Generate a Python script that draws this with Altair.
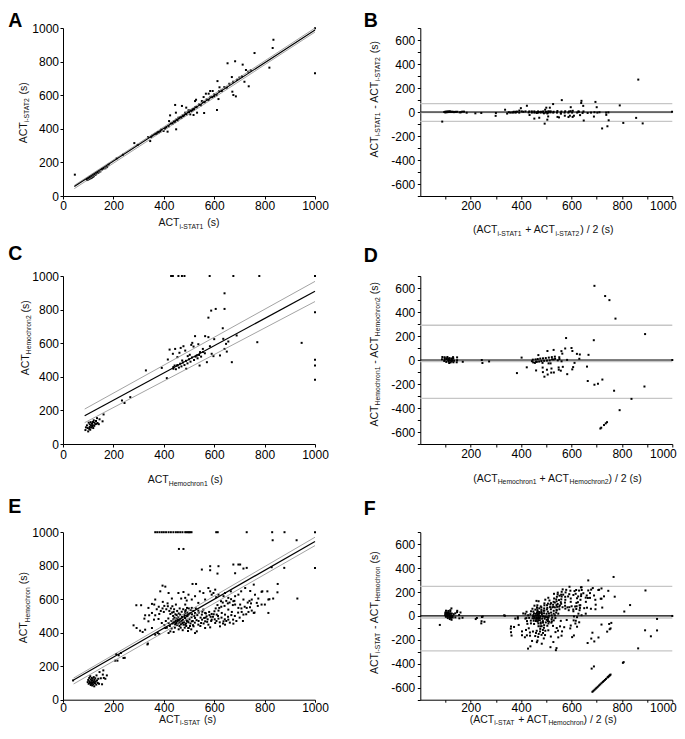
import altair as alt
import pandas as pd

FONT = "Liberation Sans, Arial, Helvetica, sans-serif"

# ---------------- data ----------------
# Panel A: ACT i-STAT1 (x) vs ACT i-STAT2 (y)
a_pairs = [
    (47, 127),
    (95, 95), (97, 100), (100, 98), (102, 104), (105, 102), (107, 108), (110, 106), (112, 112),
    (115, 110), (118, 117), (120, 115), (123, 121), (126, 125), (130, 128), (133, 134), (138, 137),
    (142, 141), (148, 146), (155, 158), (160, 162), (168, 165), (175, 172), (181, 187), (213, 224),
    (238, 246),
    (283, 315), (296, 304), (338, 351), (346, 327), (350, 352), (355, 360), (363, 367), (368, 372),
    (372, 370), (376, 381), (380, 378), (386, 383), (390, 395), (399, 387), (405, 400), (410, 408),
    (415, 383), (420, 415), (428, 432), (435, 430), (440, 445), (445, 440), (450, 455), (455, 450),
    (460, 462), (465, 470), (470, 465), (475, 480), (480, 478), (485, 488), (490, 485), (495, 500),
    (500, 498), (505, 510), (510, 505), (515, 518), (520, 515), (525, 530), (530, 528), (540, 545),
    (548, 540), (555, 560), (562, 558), (570, 575), (578, 572), (585, 590), (592, 588), (600, 605),
    (610, 600), (620, 625), (630, 628), (640, 648), (650, 645), (660, 668), (675, 680), (690, 692),
    (700, 705), (710, 712), (720, 680), (735, 740), (745, 748),
    (421, 446), (425, 480), (445, 542), (448, 496), (449, 397), (458, 466), (472, 536), (476, 476),
    (485, 496), (489, 526), (498, 510), (505, 486), (514, 510), (518, 482), (524, 565), (528, 573),
    (532, 496), (551, 565), (558, 589), (560, 494), (567, 609), (578, 609), (584, 625), (594, 625),
    (600, 593), (611, 512), (613, 684), (617, 577), (621, 647), (630, 625), (653, 790), (670, 708),
    (672, 621), (676, 601), (683, 802), (686, 593), (713, 782), (726, 750), (737, 653), (760, 851),
    (819, 764), (832, 881), (835, 930), (1000, 998), (1000, 730),
]

# Panel C: ACT Hemochron1 (x) vs ACT Hemochron2 (y)
c_pairs = [
    (89, 83), (95, 111), (98, 95), (102, 127), (106, 101), (108, 85), (111, 111), (115, 121),
    (119, 131), (122, 141), (125, 127), (131, 137), (135, 154), (137, 125), (145, 147), (157, 135),
    (161, 176), (100, 75), (91, 99), (116, 105), (106, 117), (112, 98), (118, 112), (128, 118),
    (104, 90), (124, 108), (110, 130), (133, 120), (142, 118), (120, 95),
    (234, 259), (244, 244), (267, 279), (329, 438),
    (392, 453), (416, 503), (412, 392), (423, 562), (436, 537), (445, 566), (438, 448), (452, 467),
    (454, 517), (462, 543), (467, 572), (473, 497), (478, 582), (485, 556), (489, 448), (495, 523),
    (503, 531), (509, 590), (513, 602), (518, 580), (524, 642), (531, 527), (537, 594), (542, 467),
    (544, 547), (555, 566), (564, 642), (571, 487), (577, 636), (583, 582), (590, 537), (597, 523),
    (600, 624), (623, 527), (636, 626), (641, 566), (647, 596), (650, 550), (656, 610), (670, 487),
    (689, 646),
    (438, 458), (443, 467), (448, 445), (455, 470), (460, 455), (465, 478), (470, 462), (476, 485),
    (482, 470), (488, 495), (494, 480), (500, 505), (506, 490), (512, 515), (520, 500), (526, 520),
    (534, 510), (540, 530), (548, 520), (556, 548), (563, 540),
    (429, 1000), (436, 1000), (458, 1000), (472, 1000), (482, 1000), (582, 1000), (676, 1000),
    (779, 1000), (1000, 1000),
    (641, 897), (588, 794), (606, 804), (641, 804), (577, 752), (634, 689), (1000, 784), (1000, 501),
    (1000, 467), (1000, 382), (947, 602), (771, 606),
]

# Panel E: ACT i-STAT (x) vs ACT Hemochron (y)
e_pairs = [
    (40, 115),
    (98, 105), (100, 118), (102, 95), (104, 130), (105, 110), (107, 100), (108, 140), (110, 88),
    (110, 120), (112, 105), (113, 95), (114, 130), (115, 115), (116, 85), (117, 100), (118, 125),
    (120, 110), (120, 92), (122, 135), (123, 105), (124, 80), (125, 118), (127, 98), (128, 128),
    (130, 108), (132, 90), (133, 145), (135, 115), (138, 100), (140, 125), (143, 95), (150, 128),
    (155, 92), (158, 150), (162, 130), (168, 125), (174, 145), (145, 165), (160, 175),
    (207, 233), (216, 233), (211, 273), (221, 265), (230, 279), (240, 249), (245, 250), (335, 330),
    (382, 392),
    (395, 681), (406, 675), (386, 647), (419, 637), (432, 604), (458, 637), (478, 643), (469, 604),
    (362, 568), (353, 572), (366, 598), (291, 564), (310, 564), (339, 548), (396, 584), (416, 558),
    (434, 558), (448, 568), (326, 504), (342, 504), (353, 518), (366, 504), (382, 512), (400, 524),
    (323, 484), (339, 468), (361, 478), (379, 482), (392, 458), (280, 444), (292, 428), (306, 412),
    (316, 404), (326, 418), (353, 428), (366, 388), (337, 335), (376, 398), (406, 428), (419, 458),
    (426, 408), (439, 404), (448, 452), (456, 478), (465, 508), (472, 468), (478, 448), (485, 518),
    (491, 498), (495, 468), (498, 428), (491, 592), (426, 512), (439, 524), (419, 398),
    (430, 470), (435, 455), (438, 480), (440, 462), (442, 490), (445, 450), (447, 472), (449, 460),
    (450, 485), (452, 445), (455, 468), (457, 492), (458, 455), (460, 475), (462, 440), (464, 462),
    (466, 483), (468, 450), (470, 470), (472, 495), (474, 458), (476, 478), (480, 462), (484, 488),
    (488, 455), (490, 475), (494, 500), (498, 462), (502, 480), (506, 455), (510, 492), (515, 470),
    (366, 1000), (374, 1000), (383, 1000), (392, 1000), (400, 1000), (409, 1000), (419, 1000),
    (428, 1000), (438, 1000), (448, 1000), (456, 1000), (465, 1000), (474, 1000), (485, 1000),
    (490, 1000), (495, 1000), (500, 1000), (505, 1000), (510, 1000), (608, 1000), (614, 1000),
    (729, 1000), (830, 1000), (879, 1000), (1000, 1000),
    (460, 900), (478, 900),
    (832, 952), (927, 952), (1000, 787), (878, 787), (828, 791), (551, 777), (584, 797), (584, 773),
    (617, 797), (613, 753), (676, 807), (696, 807), (703, 807), (716, 783), (683, 755), (729, 787),
    (514, 691), (528, 691), (852, 691), (851, 641), (930, 604), (757, 687),
    (485, 608), (498, 627), (511, 598), (524, 618), (537, 578), (543, 647), (557, 637), (564, 598),
    (577, 667), (584, 647), (590, 627), (597, 637), (604, 657), (608, 612), (617, 627), (627, 588),
    (637, 618), (643, 637), (656, 608), (666, 647), (676, 588), (683, 618), (696, 627), (707, 647),
    (716, 598), (723, 667), (749, 598), (762, 627), (775, 604), (791, 647), (801, 568), (815, 598),
    (834, 604),
    (485, 528), (498, 508), (511, 548), (524, 518), (537, 532), (551, 508), (557, 538), (564, 518),
    (570, 498), (580, 524), (590, 512), (601, 528), (610, 508), (617, 532), (630, 518), (643, 508),
    (656, 538), (670, 524), (683, 568), (696, 548), (709, 524), (729, 548), (742, 552), (749, 532),
    (757, 518), (769, 578), (788, 568), (815, 518), (736, 524), (703, 568), (716, 508),
    (511, 468), (524, 488), (537, 448), (548, 458), (564, 468), (577, 448), (590, 478), (604, 458),
    (617, 484), (623, 438), (637, 468), (643, 448), (656, 478), (676, 454), (485, 448), (498, 428),
    (518, 438), (524, 398), (531, 408), (564, 428), (584, 432),
    (485, 568), (492, 548), (485, 488), (492, 468),
    (760, 520), (773, 560), (819, 600), (811, 647), (788, 644), (743, 649),
    (372, 540), (380, 555), (388, 530), (395, 545), (402, 560), (410, 540), (415, 575), (422, 530),
    (428, 545), (433, 520), (441, 540), (446, 510), (453, 530), (459, 515), (463, 545), (471, 525),
    (477, 540), (482, 505), (487, 535), (493, 520), (499, 545), (503, 515), (507, 535), (512, 510),
    (517, 530), (521, 500), (527, 545), (533, 505), (539, 520), (546, 490), (553, 525), (560, 488),
    (567, 515), (574, 480), (581, 505), (588, 470), (595, 495), (602, 480), (609, 470), (615, 500),
    (622, 462), (629, 490), (635, 455), (642, 480), (648, 470), (655, 495), (662, 460), (668, 505),
    (675, 478), (682, 500), (688, 470), (695, 520), (701, 490), (708, 545), (714, 470), (721, 555),
    (727, 510), (733, 580), (740, 590), (746, 575),
    (402, 445), (408, 470), (412, 430), (418, 485), (424, 440), (431, 425), (437, 500), (444, 430),
    (451, 505), (459, 420), (467, 430), (475, 415), (483, 430), (489, 440), (496, 410), (504, 440),
    (509, 420), (516, 445), (523, 460), (530, 475), (538, 470), (545, 440), (552, 478), (558, 455),
    (566, 490), (572, 465), (586, 495), (598, 510), (606, 545), (613, 565), (620, 548), (628, 555),
    (634, 580), (641, 560), (648, 590), (654, 575), (661, 580), (667, 600), (674, 565), (680, 590),
]

# Regression lines (two end points) with 95% confidence band
a_line_x = [45, 1000]
a_fit_y = [56, 988]
a_upper_y = [63, 1000]
a_lower_y = [44, 976]

c_line_x = [86, 1000]
c_fit_y = [168, 909]
c_upper_y = [208, 968]
c_lower_y = [127, 848]

e_line_x = [42, 1000]
e_fit_y = [117, 945]
e_upper_y = [129, 970]
e_lower_y = [94, 920]

# Bland-Altman reference levels: zero line, mean bias, upper and lower limits of agreement
ba_zero = [0]
b_levels = [-4, 70, -78]
d_levels = [-12, 289, -320]
f_levels = [-17, 247, -292]

# ---------------- layout constants ----------------
W = 252
H = 168
H3 = 175.7
OFF3 = 8.2

AX_TICKS = list(range(0, 1001, 200))
BA_X_TICKS = list(range(100, 1001, 100))
BA_Y_TICKS = list(range(-700, 701, 100))
BA_LABEL = "datum.value % 200 === 0 ? '' + datum.value : ''"

CHAR_W = {' ': 278, '(': 333, ')': 333, '+': 584, '-': 333, '/': 278, 'A': 667, 'C': 722,
          'T': 611, 'S': 667, 'H': 722, 'e': 556, 'm': 833, 'o': 556, 'c': 500, 'h': 556,
          'r': 333, 'n': 556, 'i': 222, 's': 500}

ONE = pd.DataFrame({'k': [0]})


def text_w(s, fs):
    return sum(CHAR_W.get(ch, 556) for ch in s) * fs / 1000.0


def txt(s, x, y, fs, angle=0):
    return alt.Chart(ONE).mark_text(
        text=s, font=FONT, fontSize=fs, angle=angle, align='left',
        baseline='alphabetic', color='#111111'
    ).encode(x=alt.value(x), y=alt.value(y))


def composite_title(segs, cx, cy, vertical, shift=2.2):
    MAIN, SUB = 10.5, 6.8
    total = sum(text_w(t, SUB if s else MAIN) for t, s in segs)
    pos = -total / 2.0
    out = []
    for t, s in segs:
        fs = SUB if s else MAIN
        st = t.lstrip(' ')
        start = pos + text_w(t[:len(t) - len(st)], fs)
        if vertical:
            out.append(txt(st, cx + (shift if s else 0), cy - start, fs, angle=270))
        else:
            out.append(txt(st, cx + start, cy + (shift if s else 0), fs))
        pos += text_w(t, fs)
    return out


def letter(ch, x, y):
    return alt.Chart(ONE).mark_text(
        text=ch, font=FONT, fontSize=19.5, fontWeight='bold', align='left',
        baseline='top', color='black'
    ).encode(x=alt.value(x), y=alt.value(y))


def top_anchor():
    # invisible (white) hairline that fixes the top edge of the layout
    return alt.Chart(ONE).mark_rule(color='white', strokeWidth=0.5).encode(
        x=alt.value(-54), x2=alt.value(-50), y=alt.value(-18.8))


def make_axis(values, pad, label_expr=None, flush=False, tick=3):
    kw = dict(values=values, title=None, grid=False, domainColor='black', domainWidth=1,
              tickColor='black', tickWidth=1, tickSize=tick, labelFont=FONT, labelFontSize=12,
              labelColor='black', labelPadding=pad, labelOverlap=False, labelFlush=flush)
    if label_expr:
        kw['labelExpr'] = label_expr
    else:
        kw['format'] = 'd'
    if flush:
        kw['labelFlushOffset'] = 4
    return alt.Axis(**kw)


def yscale(domain, yrange):
    if yrange:
        return alt.Scale(domain=domain, nice=False, zero=False, range=yrange)
    return alt.Scale(domain=domain, nice=False, zero=False)


def scatter_layers(pairs, line_x, fit_y, up_y, lo_y, xpad, yrange=None, xtick=3):
    df = pd.DataFrame(pairs, columns=['x', 'y'])
    xs = alt.Scale(domain=[0, 1000], nice=False, zero=False)
    ys = yscale([0, 1000], yrange)
    ax = make_axis(AX_TICKS, xpad, tick=xtick)
    ay = make_axis(AX_TICKS, 1.5)
    ci = pd.DataFrame({'x0': [line_x[0]] * 2, 'x1': [line_x[1]] * 2,
                       'y0': [up_y[0], lo_y[0]], 'y1': [up_y[1], lo_y[1]]})
    fit = pd.DataFrame({'x0': [line_x[0]], 'x1': [line_x[1]], 'y0': [fit_y[0]], 'y1': [fit_y[1]]})
    pts = alt.Chart(df).mark_square(size=4, color='black', opacity=1, strokeWidth=0).encode(
        x=alt.X('x:Q', scale=xs, axis=ax, title=None),
        y=alt.Y('y:Q', scale=ys, axis=ay, title=None))
    ci_l = alt.Chart(ci).mark_rule(color='#8c8c8c', strokeWidth=0.8).encode(
        x=alt.X('x0:Q', scale=xs, axis=ax, title=None), x2='x1:Q',
        y=alt.Y('y0:Q', scale=ys, axis=ay, title=None), y2='y1:Q')
    fit_l = alt.Chart(fit).mark_rule(color='black', strokeWidth=1.2).encode(
        x=alt.X('x0:Q', scale=xs, axis=ax, title=None), x2='x1:Q',
        y=alt.Y('y0:Q', scale=ys, axis=ay, title=None), y2='y1:Q')
    return [pts, ci_l, fit_l]


def ba_layers(pairs, levels, xpad, yrange=None, xtick=3):
    df = pd.DataFrame(pairs, columns=['a', 'b'])
    df['m'] = (df['a'] + df['b']) / 2.0
    df['d'] = df['a'] - df['b']
    xs = alt.Scale(domain=[0, 1000], nice=False, zero=False)
    ys = yscale([-700, 700], yrange)
    ax = make_axis(BA_X_TICKS, xpad, BA_LABEL, flush=True, tick=xtick)
    ay = make_axis(BA_Y_TICKS, 2.5, BA_LABEL)
    gray = alt.Chart(pd.DataFrame({'v': levels})).mark_rule(color='#c6c6c6', strokeWidth=1.4).encode(
        y=alt.Y('v:Q', scale=ys, axis=ay, title=None), x=alt.value(0), x2=alt.value(W))
    zero = alt.Chart(pd.DataFrame({'v': ba_zero})).mark_rule(color='black', strokeWidth=1.2).encode(
        y=alt.Y('v:Q', scale=ys, axis=ay, title=None), x=alt.value(0), x2=alt.value(W))
    pts = alt.Chart(df).mark_square(size=4, color='black', opacity=1, strokeWidth=0).encode(
        x=alt.X('m:Q', scale=xs, axis=ax, title=None),
        y=alt.Y('d:Q', scale=ys, axis=ay, title=None))
    return [gray, zero, pts]


# ---------------- panels ----------------
panel_a = alt.layer(
    *scatter_layers(a_pairs, a_line_x, a_fit_y, a_upper_y, a_lower_y, 1),
    top_anchor(),
    letter('A', -54.7, -16),
    *composite_title([('ACT', False), ('i-STAT1', True), (' (s)', False)], 126, 198.3, False),
    *composite_title([('ACT', False), ('i-STAT2', True), (' (s)', False)], -36, 84.7, True),
).properties(width=W, height=H)

panel_b = alt.layer(
    *ba_layers(a_pairs, b_levels, 1.5),
    letter('B', -56.6, -16),
    *composite_title([('(ACT', False), ('i-STAT1', True), (' + ACT', False), ('i-STAT2', True),
                      (') / 2 (s)', False)], 123, 205.3, False),
    *composite_title([('ACT', False), ('i-STAT1', True), (' - ACT', False), ('i-STAT2', True),
                      (' (s)', False)], -42.6, 71.3, True),
).properties(width=W, height=H)

panel_c = alt.layer(
    *scatter_layers(c_pairs, c_line_x, c_fit_y, c_upper_y, c_lower_y, 2.5),
    letter('C', -54.7, -31),
    *composite_title([('ACT', False), ('Hemochron1', True), (' (s)', False)], 122.3, 207.3, False),
    *composite_title([('ACT', False), ('Hemochron2', True), (' (s)', False)], -34.4, 61.7, True),
).properties(width=W, height=H)

panel_d = alt.layer(
    *ba_layers(c_pairs, d_levels, 1),
    letter('D', -56.6, -29.3),
    *composite_title([('(ACT', False), ('Hemochron1', True), (' + ACT', False), ('Hemochron2', True),
                      (') / 2 (s)', False)], 137.2, 205.7, False),
    *composite_title([('ACT', False), ('Hemochron1', True), (' - ACT', False), ('Hemochron2', True),
                      (' (s)', False)], -42.3, 78.3, True),
).properties(width=W, height=H)

panel_e = alt.layer(
    *scatter_layers(e_pairs, e_line_x, e_fit_y, e_upper_y, e_lower_y, 0, yrange=[H3, OFF3], xtick=2.5),
    letter('E', -54.7, -25.7),
    *composite_title([('ACT', False), ('i-STAT', True), (' (s)', False)], 124.6, 199.2, False, shift=1.8),
    *composite_title([('ACT', False), ('Hemochron', True), (' (s)', False)], -35.7, 83.7, True),
).properties(width=W, height=H3)

panel_f = alt.layer(
    *ba_layers(e_pairs, f_levels, 0, yrange=[H3, OFF3], xtick=2.5),
    letter('F', -56.6, -24),
    *composite_title([('(ACT', False), ('i-STAT', True), (' + ACT', False), ('Hemochron', True),
                      (') / 2 (s)', False)], 123, 199.2, False, shift=1.8),
    *composite_title([('ACT', False), ('i-STAT', True), (' - ACT', False), ('Hemochron', True),
                      (' (s)', False)], -42.3, 88.7, True),
).properties(width=W, height=H3)

chart = alt.concat(
    panel_a, panel_b, panel_c, panel_d, panel_e, panel_f,
    columns=2, spacing={'row': 80, 'column': 105.3}, bounds='flush', align='each'
).properties(padding=0).configure_view(stroke=None)

chart.save("out.html", embed_options={"renderer": "svg", "actions": False})
